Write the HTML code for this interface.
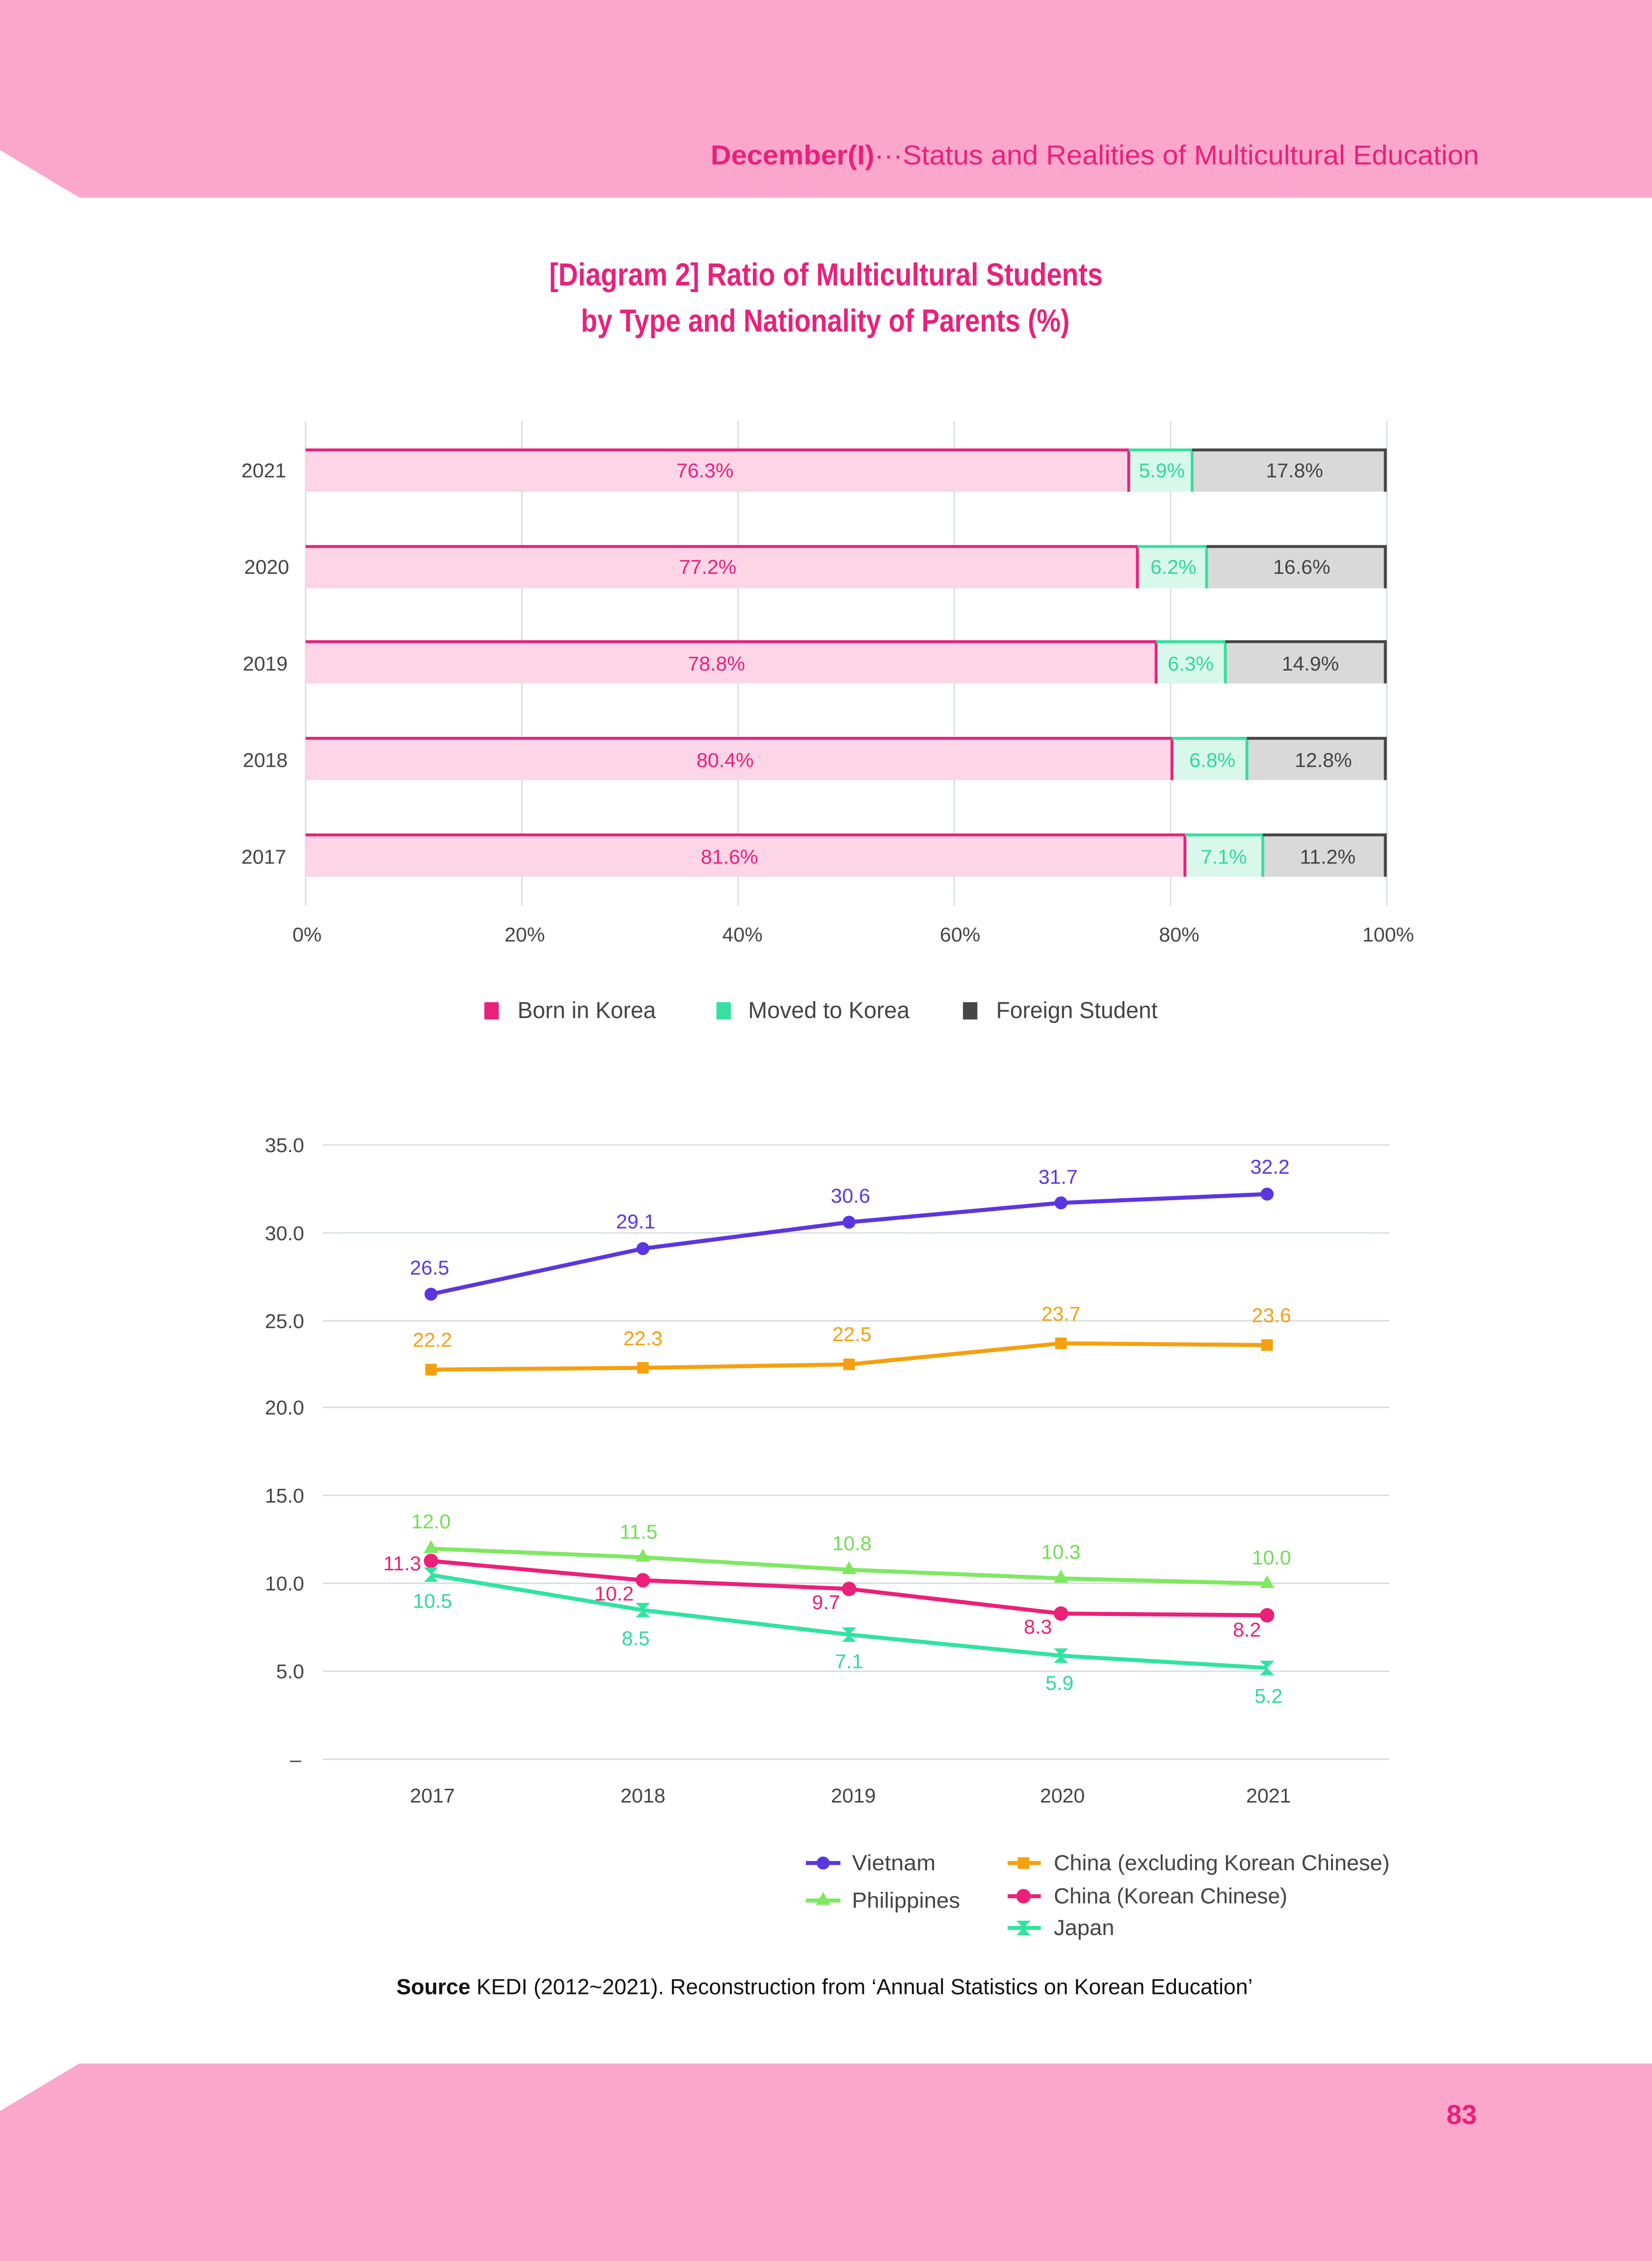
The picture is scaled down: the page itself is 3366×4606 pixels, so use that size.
<!DOCTYPE html>
<html><head><meta charset="utf-8"><style>
html,body{margin:0;padding:0;background:#fff;}
svg{display:block;}
text{font-family:"Liberation Sans",sans-serif;}
</style></head><body>
<svg width="3366" height="4606" viewBox="0 0 1146 1568" preserveAspectRatio="none" xmlns="http://www.w3.org/2000/svg">
<rect width="1146" height="1568" fill="#fff"/>
<!-- header -->
<polygon points="0,0 1146,0 1146,137 55,137 0,104" fill="#fba6cb"/>
<text x="493" y="114" font-size="19" fill="#e8217b" textLength="533" lengthAdjust="spacingAndGlyphs"><tspan font-weight="bold">December(I)</tspan>···Status and Realities of Multicultural Education</text>
<!-- title -->
<text x="381" y="198" font-size="22" font-weight="bold" fill="#e8217b" textLength="384" lengthAdjust="spacingAndGlyphs">[Diagram 2] Ratio of Multicultural Students</text>
<text x="403" y="230" font-size="22" font-weight="bold" fill="#e8217b" textLength="339" lengthAdjust="spacingAndGlyphs">by Type and Nationality of Parents (%)</text>

<!-- bar chart grid -->
<g stroke="#d8dfdf" stroke-width="1">
<line x1="212" y1="292" x2="212" y2="628"/><line x1="362" y1="292" x2="362" y2="628"/><line x1="512" y1="292" x2="512" y2="628"/>
<line x1="662" y1="292" x2="662" y2="628"/><line x1="812" y1="292" x2="812" y2="628"/><line x1="962" y1="292" x2="962" y2="628"/>
</g>
<g font-size="14" text-anchor="middle">
<rect x="212" y="311" width="571" height="30" fill="#fcd5e7"/><rect x="783" y="311" width="44" height="30" fill="#d9f8ec"/><rect x="827" y="311" width="135" height="30" fill="#d9d9d9"/>
<line x1="212" y1="312" x2="783" y2="312" stroke="#e8217b" stroke-width="2"/><line x1="783" y1="311" x2="783" y2="341" stroke="#e8217b" stroke-width="2"/>
<line x1="783" y1="312" x2="827" y2="312" stroke="#36e09f" stroke-width="2"/><line x1="827" y1="311" x2="827" y2="341" stroke="#36e09f" stroke-width="2"/>
<line x1="827" y1="312" x2="962" y2="312" stroke="#474747" stroke-width="2"/><line x1="961" y1="311" x2="961" y2="341" stroke="#474747" stroke-width="2"/>
<text x="489" y="331" fill="#e8217b">76.3%</text><text x="806" y="331" fill="#2fd99a">5.9%</text><text x="898" y="331" fill="#444">17.8%</text>
<rect x="212" y="378" width="577" height="30" fill="#fcd5e7"/><rect x="789" y="378" width="48" height="30" fill="#d9f8ec"/><rect x="837" y="378" width="125" height="30" fill="#d9d9d9"/>
<line x1="212" y1="379" x2="789" y2="379" stroke="#e8217b" stroke-width="2"/><line x1="789" y1="378" x2="789" y2="408" stroke="#e8217b" stroke-width="2"/>
<line x1="789" y1="379" x2="837" y2="379" stroke="#36e09f" stroke-width="2"/><line x1="837" y1="378" x2="837" y2="408" stroke="#36e09f" stroke-width="2"/>
<line x1="837" y1="379" x2="962" y2="379" stroke="#474747" stroke-width="2"/><line x1="961" y1="378" x2="961" y2="408" stroke="#474747" stroke-width="2"/>
<text x="491" y="398" fill="#e8217b">77.2%</text><text x="814" y="398" fill="#2fd99a">6.2%</text><text x="903" y="398" fill="#444">16.6%</text>
<rect x="212" y="444" width="590" height="30" fill="#fcd5e7"/><rect x="802" y="444" width="48" height="30" fill="#d9f8ec"/><rect x="850" y="444" width="112" height="30" fill="#d9d9d9"/>
<line x1="212" y1="445" x2="802" y2="445" stroke="#e8217b" stroke-width="2"/><line x1="802" y1="444" x2="802" y2="474" stroke="#e8217b" stroke-width="2"/>
<line x1="802" y1="445" x2="850" y2="445" stroke="#36e09f" stroke-width="2"/><line x1="850" y1="444" x2="850" y2="474" stroke="#36e09f" stroke-width="2"/>
<line x1="850" y1="445" x2="962" y2="445" stroke="#474747" stroke-width="2"/><line x1="961" y1="444" x2="961" y2="474" stroke="#474747" stroke-width="2"/>
<text x="497" y="465" fill="#e8217b">78.8%</text><text x="826" y="465" fill="#2fd99a">6.3%</text><text x="909" y="465" fill="#444">14.9%</text>
<rect x="212" y="511" width="601" height="30" fill="#fcd5e7"/><rect x="813" y="511" width="52" height="30" fill="#d9f8ec"/><rect x="865" y="511" width="97" height="30" fill="#d9d9d9"/>
<line x1="212" y1="512" x2="813" y2="512" stroke="#e8217b" stroke-width="2"/><line x1="813" y1="511" x2="813" y2="541" stroke="#e8217b" stroke-width="2"/>
<line x1="813" y1="512" x2="865" y2="512" stroke="#36e09f" stroke-width="2"/><line x1="865" y1="511" x2="865" y2="541" stroke="#36e09f" stroke-width="2"/>
<line x1="865" y1="512" x2="962" y2="512" stroke="#474747" stroke-width="2"/><line x1="961" y1="511" x2="961" y2="541" stroke="#474747" stroke-width="2"/>
<text x="503" y="532" fill="#e8217b">80.4%</text><text x="841" y="532" fill="#2fd99a">6.8%</text><text x="918" y="532" fill="#444">12.8%</text>
<rect x="212" y="578" width="610" height="30" fill="#fcd5e7"/><rect x="822" y="578" width="54" height="30" fill="#d9f8ec"/><rect x="876" y="578" width="86" height="30" fill="#d9d9d9"/>
<line x1="212" y1="579" x2="822" y2="579" stroke="#e8217b" stroke-width="2"/><line x1="822" y1="578" x2="822" y2="608" stroke="#e8217b" stroke-width="2"/>
<line x1="822" y1="579" x2="876" y2="579" stroke="#36e09f" stroke-width="2"/><line x1="876" y1="578" x2="876" y2="608" stroke="#36e09f" stroke-width="2"/>
<line x1="876" y1="579" x2="962" y2="579" stroke="#474747" stroke-width="2"/><line x1="961" y1="578" x2="961" y2="608" stroke="#474747" stroke-width="2"/>
<text x="506" y="599" fill="#e8217b">81.6%</text><text x="849" y="599" fill="#2fd99a">7.1%</text><text x="921" y="599" fill="#444">11.2%</text>
</g>
<g font-size="14" fill="#444" text-anchor="middle">
<text x="183" y="331">2021</text><text x="185" y="398">2020</text><text x="184" y="465">2019</text><text x="184" y="532">2018</text><text x="183" y="599">2017</text>
<text x="213" y="653">0%</text><text x="364" y="653">20%</text><text x="515" y="653">40%</text><text x="666" y="653">60%</text><text x="818" y="653">80%</text><text x="963" y="653">100%</text>
</g>
<rect x="336" y="695" width="10" height="12" fill="#e8217b"/>
<text x="359" y="706" font-size="16" fill="#444" textLength="96" lengthAdjust="spacingAndGlyphs">Born in Korea</text>
<rect x="497" y="695" width="10" height="12" fill="#36e09f"/>
<text x="519" y="706" font-size="16" fill="#444" textLength="112" lengthAdjust="spacingAndGlyphs">Moved to Korea</text>
<rect x="668" y="695" width="10" height="12" fill="#474747"/>
<text x="691" y="706" font-size="16" fill="#444" textLength="112" lengthAdjust="spacingAndGlyphs">Foreign Student</text>

<g stroke="#d8dfdf" stroke-width="1">
<line x1="224" y1="794" x2="964" y2="794"/><line x1="224" y1="855" x2="964" y2="855"/><line x1="224" y1="916" x2="964" y2="916"/>
<line x1="224" y1="976" x2="964" y2="976"/><line x1="224" y1="1037" x2="964" y2="1037"/><line x1="224" y1="1098" x2="964" y2="1098"/>
<line x1="224" y1="1159" x2="964" y2="1159"/><line x1="224" y1="1220" x2="964" y2="1220"/>
</g>
<g font-size="14" fill="#444" text-anchor="end">
<text x="211" y="799">35.0</text><text x="211" y="860">30.0</text><text x="211" y="921">25.0</text><text x="211" y="981">20.0</text>
<text x="211" y="1042">15.0</text><text x="211" y="1103">10.0</text><text x="211" y="1164">5.0</text><text x="209" y="1225">–</text>
</g>
<g font-size="14" fill="#444" text-anchor="middle">
<text x="300" y="1250">2017</text><text x="446" y="1250">2018</text><text x="592" y="1250">2019</text><text x="737" y="1250">2020</text><text x="880" y="1250">2021</text>
</g>
<g fill="none" stroke-width="2.8" stroke-linejoin="round">
<polyline stroke="#5b36e0" points="299,897.5 446,865.9 589,847.6 736,834.2 879,828.1"/>
<polyline stroke="#f5a00f" points="299,949.8 446,948.6 589,946.2 736,931.6 879,932.8"/>
<polyline stroke="#7fe862" points="299,1074 446,1080 589,1088.6 736,1094.6 879,1098.3"/>
<polyline stroke="#ec1f79" points="299,1082.5 446,1095.9 589,1101.9 736,1119 879,1120.2"/>
<polyline stroke="#2fe3a0" points="299,1092.2 446,1116.6 589,1133.6 736,1148.2 879,1156.7"/>
</g>
<g fill="#5b36e0"><circle cx="299" cy="897.5" r="4.5"/><circle cx="446" cy="865.9" r="4.5"/><circle cx="589" cy="847.6" r="4.5"/><circle cx="736" cy="834.2" r="4.5"/><circle cx="879" cy="828.1" r="4.5"/></g>
<g fill="#f5a00f"><rect x="295" y="945.8" width="8" height="8"/><rect x="442" y="944.6" width="8" height="8"/><rect x="585" y="942.2" width="8" height="8"/><rect x="732" y="927.6" width="8" height="8"/><rect x="875" y="928.8" width="8" height="8"/></g>
<g fill="#7fe862"><polygon points="299,1068 304,1077 294,1077"/><polygon points="446,1074 451,1083 441,1083"/><polygon points="589,1082.6 594,1091.6 584,1091.6"/><polygon points="736,1088.6 741,1097.6 731,1097.6"/><polygon points="879,1092.3 884,1101.3 874,1101.3"/></g>
<g fill="#ec1f79"><circle cx="299" cy="1082.5" r="5"/><circle cx="446" cy="1095.9" r="5"/><circle cx="589" cy="1101.9" r="5"/><circle cx="736" cy="1119" r="5"/><circle cx="879" cy="1120.2" r="5"/></g>
<g fill="#2fe3a0"><polygon points="294,1087 304,1087 299,1092 304,1097 294,1097 299,1092"/><polygon points="441,1111.6 451,1111.6 446,1116.6 451,1121.6 441,1121.6 446,1116.6"/><polygon points="584,1128.6 594,1128.6 589,1133.6 594,1138.6 584,1138.6 589,1133.6"/><polygon points="731,1143.2 741,1143.2 736,1148.2 741,1153.2 731,1153.2 736,1148.2"/><polygon points="874,1151.7 884,1151.7 879,1156.7 884,1161.7 874,1161.7 879,1156.7"/></g>
<g font-size="14" text-anchor="middle">
<g fill="#5b36e0"><text x="298" y="884">26.5</text><text x="441" y="852">29.1</text><text x="590" y="834">30.6</text><text x="734" y="821">31.7</text><text x="881" y="814">32.2</text></g>
<g fill="#f5a00f"><text x="300" y="934">22.2</text><text x="446" y="933">22.3</text><text x="591" y="930">22.5</text><text x="736" y="916">23.7</text><text x="882" y="917">23.6</text></g>
<g fill="#6fdf50"><text x="299" y="1060">12.0</text><text x="443" y="1067">11.5</text><text x="591" y="1075">10.8</text><text x="736" y="1081">10.3</text><text x="882" y="1085">10.0</text></g>
<g fill="#ec1f79"><text x="279" y="1089">11.3</text><text x="426" y="1110">10.2</text><text x="573" y="1116">9.7</text><text x="720" y="1133">8.3</text><text x="865" y="1135">8.2</text></g>
<g fill="#2fd99a"><text x="300" y="1115">10.5</text><text x="441" y="1141">8.5</text><text x="589" y="1157">7.1</text><text x="735" y="1172">5.9</text><text x="880" y="1181">5.2</text></g>
</g>
<!-- line legend -->
<line x1="559" y1="1292" x2="583" y2="1292" stroke="#5b36e0" stroke-width="2.8"/><circle cx="571" cy="1292" r="4.5" fill="#5b36e0"/>
<text x="591" y="1297" font-size="15" fill="#444" textLength="58" lengthAdjust="spacingAndGlyphs">Vietnam</text>
<line x1="559" y1="1318" x2="583" y2="1318" stroke="#7fe862" stroke-width="2.8"/><polygon points="571,1312 576,1321 566,1321" fill="#7fe862"/>
<text x="591" y="1323" font-size="15" fill="#444" textLength="75" lengthAdjust="spacingAndGlyphs">Philippines</text>
<line x1="699" y1="1292" x2="722" y2="1292" stroke="#f5a00f" stroke-width="2.8"/><rect x="706" y="1288" width="8" height="8" fill="#f5a00f"/>
<text x="731" y="1297" font-size="15" fill="#444" textLength="233" lengthAdjust="spacingAndGlyphs">China (excluding Korean Chinese)</text>
<line x1="699" y1="1315" x2="722" y2="1315" stroke="#ec1f79" stroke-width="2.8"/><circle cx="710" cy="1315" r="5" fill="#ec1f79"/>
<text x="731" y="1320" font-size="15" fill="#444" textLength="162" lengthAdjust="spacingAndGlyphs">China (Korean Chinese)</text>
<line x1="699" y1="1337" x2="722" y2="1337" stroke="#2fe3a0" stroke-width="2.8"/><polygon points="705,1332 715,1332 710,1337 715,1342 705,1342 710,1337" fill="#2fe3a0"/>
<text x="731" y="1342" font-size="15" fill="#444" textLength="42" lengthAdjust="spacingAndGlyphs">Japan</text>
<text x="275" y="1383" font-size="15" fill="#111" textLength="594" lengthAdjust="spacingAndGlyphs"><tspan font-weight="bold">Source</tspan>  KEDI (2012~2021). Reconstruction from ‘Annual Statistics on Korean Education’</text>
<polygon points="55,1431 1146,1431 1146,1568 0,1568 0,1464" fill="#fba6cb"/>
<text x="1014" y="1473" font-size="19" font-weight="bold" fill="#e8217b" text-anchor="middle">83</text>
</svg>
</body></html>
